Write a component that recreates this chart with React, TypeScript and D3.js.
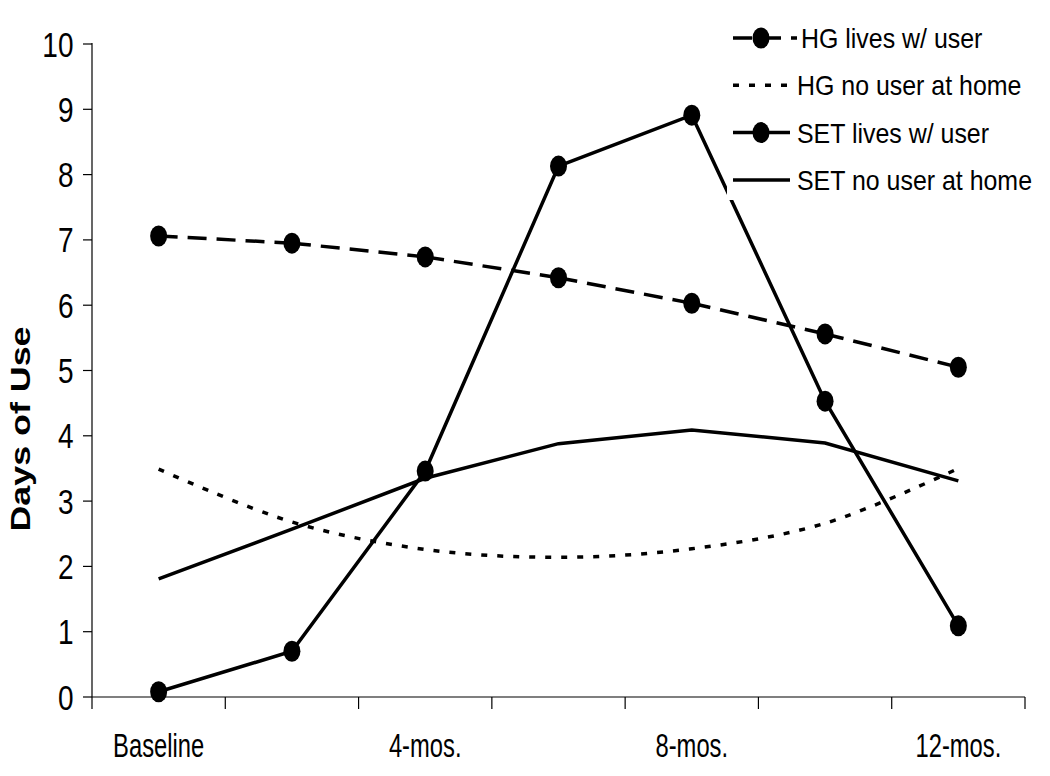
import React from "react";
import * as d3 from "d3";

const categories = ["Baseline", "2-mos.", "4-mos.", "6-mos.", "8-mos.", "10-mos.", "12-mos."];
const tickLabels = ["Baseline", "", "4-mos.", "", "8-mos.", "", "12-mos."];
const yTicks = [0, 1, 2, 3, 4, 5, 6, 7, 8, 9, 10];

const hgLives = [7.06, 6.95, 6.74, 6.42, 6.03, 5.56, 5.05];
const hgNoUser = [3.49, 2.68, 2.26, 2.14, 2.27, 2.66, 3.5];
const setLives = [0.08, 0.7, 3.46, 8.13, 8.91, 4.53, 1.09];
const setNoUser = [1.81, 2.57, 3.35, 3.88, 4.09, 3.89, 3.31];

const legendItems = [
  { label: "HG lives w/ user", dash: "19 10", marker: true, len: 64 },
  { label: "HG no user at home", dash: "6 10", marker: false, len: 57 },
  { label: "SET lives w/ user", dash: "none", marker: true, len: 57 },
  { label: "SET no user at home", dash: "none", marker: false, len: 57 },
];

const W = 1050;
const H = 776;
const left = 92;
const right = 1025;
const top = 44;
const bottom = 697;
const FONT = "'Liberation Sans', Arial, sans-serif";

export default function App() {
  const x = d3.scalePoint<string>().domain(categories).range([left, right]).padding(0.5);
  const y = d3.scaleLinear().domain([0, 10]).range([bottom, top]);
  const step = x.step();
  const boundaries = d3.range(categories.length + 1).map((i) => left + i * step);

  const straight = d3
    .line<number>()
    .x((_, i) => x(categories[i]) as number)
    .y((d) => y(d));
  const smooth = d3
    .line<number>()
    .x((_, i) => x(categories[i]) as number)
    .y((d) => y(d))
    .curve(d3.curveCatmullRom.alpha(0.5));

  const segs = hgLives.slice(1).map((v, i) => [hgLives[i], v]);

  const marker = (cx: number, cy: number, key: string) => (
    <ellipse key={key} cx={cx} cy={cy} rx={8.5} ry={10.5} fill="#000" />
  );

  return (
    <svg width={W} height={H} style={{ position: "absolute", left: 0, top: 0, background: "#fff" }}>
      <rect x={0} y={0} width={W} height={H} fill="#fff" />
      {/* axes */}
      <line x1={left} y1={top - 1} x2={left} y2={bottom} stroke="#000" strokeWidth={1.2} />
      <line x1={left} y1={bottom} x2={right} y2={bottom} stroke="#000" strokeWidth={1.2} />
      {yTicks.map((t) => (
        <g key={"yt" + t}>
          <line x1={left - 9} x2={left} y1={y(t)} y2={y(t)} stroke="#000" strokeWidth={1.2} />
          <text
            transform={`translate(73.5,${y(t) + 12.5}) scale(0.8,1)`}
            textAnchor="end"
            fontFamily={FONT}
            fontSize={35}
            fill="#000"
          >
            {t}
          </text>
        </g>
      ))}
      {boundaries.map((b, i) => (
        <line key={"xt" + i} x1={b} x2={b} y1={bottom} y2={bottom + 12} stroke="#000" strokeWidth={1.2} />
      ))}
      {categories.map((c, i) =>
        tickLabels[i] ? (
          <text
            key={"xl" + i}
            transform={`translate(${x(c)},757) scale(0.72,1)`}
            textAnchor="middle"
            fontFamily={FONT}
            fontSize={33}
            fill="#000"
          >
            {tickLabels[i]}
          </text>
        ) : null
      )}
      <text
        transform="translate(30,429) rotate(-90) scale(1.28,1)"
        textAnchor="middle"
        fontFamily={FONT}
        fontWeight="bold"
        fontSize={28}
        fill="#000"
      >
        Days of Use
      </text>

      {/* series */}
      <path d={smooth(hgNoUser) || ""} fill="none" stroke="#000" strokeWidth={3.5} strokeDasharray="6 10" />
      <path d={straight(setNoUser) || ""} fill="none" stroke="#000" strokeWidth={3.5} />
      {segs.map((s, i) => (
        <line
          key={"hgs" + i}
          x1={x(categories[i]) as number}
          y1={y(s[0])}
          x2={x(categories[i + 1]) as number}
          y2={y(s[1])}
          stroke="#000"
          strokeWidth={3.5}
          strokeDasharray="19 10"
        />
      ))}
      <path d={straight(setLives) || ""} fill="none" stroke="#000" strokeWidth={3.5} />

      {hgLives.map((v, i) => marker(x(categories[i]) as number, y(v), "hm" + i))}
      {setLives.map((v, i) => marker(x(categories[i]) as number, y(v), "sm" + i))}

      {/* legend */}
      <rect x={727} y={10} width={320} height={190} fill="#fff" />
      {legendItems.map((it, i) => {
        const ly = 38 + i * 47.3;
        return (
          <g key={"lg" + i}>
            <line
              x1={733}
              x2={733 + it.len}
              y1={ly}
              y2={ly}
              stroke="#000"
              strokeWidth={3.5}
              strokeDasharray={it.dash}
            />
            {it.marker ? marker(761, ly, "lm" + i) : null}
            <text
              transform={`translate(${i === 0 ? 801 : 797},${ly + 10}) scale(0.89,1)`}
              fontFamily={FONT}
              fontSize={28}
              fill="#000"
            >
              {it.label}
            </text>
          </g>
        );
      })}
    </svg>
  );
}
